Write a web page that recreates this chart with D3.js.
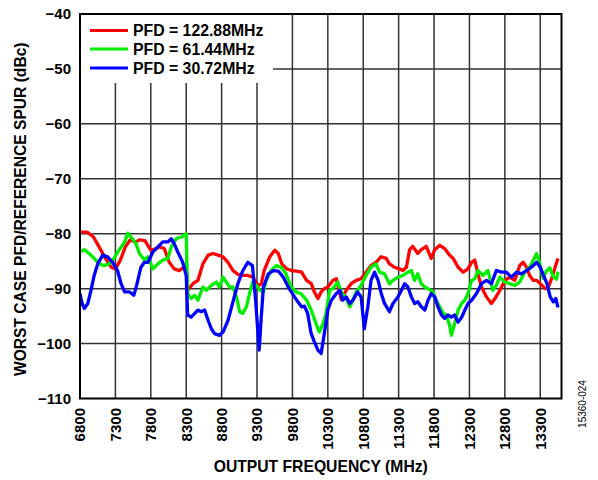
<!DOCTYPE html>
<html><head><meta charset="utf-8">
<script src="https://cdn.jsdelivr.net/npm/d3@7"></script>
<style>
html,body{margin:0;padding:0;background:#fff;}
text{font-family:"Liberation Sans",Arial,Helvetica,sans-serif;}
</style></head>
<body><svg id="c" width="598" height="480"></svg>
<script>
const xTicks = [6800,7300,7800,8300,8800,9300,9800,10300,10800,11300,11800,12300,12800,13300];
const yTicks = [-40,-50,-60,-70,-80,-90,-100,-110];
const seriesNames = ["PFD = 122.88MHz","PFD = 61.44MHz","PFD = 30.72MHz"];
const seriesColors = ["#ff0000","#00ee00","#0000ff"];

const redF = [6800,6900,6990,7070,7160,7240,7300,7370,7440,7510,7580,7650,7720,7770,7800,7880,7920,7990,8060,8130,8200,8270,8300,8320,8395,8465,8535,8610,8680,8750,8820,8890,8960,9030,9100,9170,9240,9310,9360,9400,9480,9550,9600,9650,9720,9790,9860,9930,10000,10065,10110,10160,10205,10250,10300,10370,10420,10490,10560,10630,10700,10770,10840,10910,10980,11050,11125,11170,11240,11310,11360,11410,11455,11500,11570,11620,11690,11760,11810,11880,11950,12020,12070,12140,12210,12280,12330,12375,12420,12470,12540,12610,12660,12730,12800,12870,12940,13010,13060,13105,13150,13200,13250,13300,13370,13415,13460,13510,13550];
const redV = [-79.7,-79.7,-80.6,-82.4,-84.5,-86.1,-86.4,-84.8,-82.4,-81.1,-81.5,-81.1,-81.3,-82.4,-83,-82.7,-82.4,-82.7,-85.2,-86.4,-86.7,-86.1,-86.3,-90.3,-89.1,-88.5,-85.5,-83.9,-83.6,-83.9,-84.2,-85.2,-86.7,-87.4,-87.6,-87.6,-87.9,-89.4,-89.2,-86.7,-84.2,-83,-83.6,-85.5,-86.4,-86.7,-86.8,-87,-88.5,-89.1,-90.6,-91.8,-90.6,-90,-89.7,-88.5,-88.2,-92,-90.3,-89.1,-88.5,-88.2,-87,-85.8,-85.2,-84.2,-84.5,-85.5,-86.1,-86.4,-86.7,-86.1,-82.9,-82.3,-83.6,-82.9,-82.3,-84.5,-82.9,-82.1,-82.7,-83.9,-84.5,-86.1,-87,-86.4,-85.2,-84.8,-87.3,-89.7,-91.5,-92.7,-91.8,-90.3,-88.5,-87.9,-88.5,-85.8,-85.2,-86.1,-87.6,-88.5,-88.5,-89.1,-90,-89.7,-88.2,-86.1,-84.5];

const greenF = [6800,6860,6930,7000,7070,7140,7210,7280,7350,7430,7475,7520,7590,7640,7710,7760,7830,7900,7970,8040,8090,8160,8230,8300,8320,8370,8420,8465,8535,8585,8655,8725,8770,8820,8865,8915,8960,9010,9055,9100,9150,9200,9240,9290,9340,9390,9430,9500,9570,9640,9710,9780,9850,9920,10000,10065,10135,10180,10230,10275,10325,10370,10440,10490,10560,10610,10655,10700,10770,10840,10910,10980,11030,11100,11170,11220,11290,11360,11430,11480,11525,11570,11620,11670,11715,11785,11830,11880,11930,11975,12020,12045,12090,12140,12190,12235,12280,12330,12375,12420,12490,12560,12630,12680,12730,12800,12870,12940,13010,13080,13150,13220,13247,13290,13341,13388,13435,13482,13529,13550];
const greenV = [-83.3,-82.9,-83.6,-84.5,-85.5,-85.8,-85.5,-84.5,-83,-81.5,-79.9,-80.6,-81.8,-83.6,-84.8,-84.2,-86.4,-85.5,-84.8,-84.5,-82.4,-80.9,-80.6,-80,-90.9,-91.8,-91.2,-92.1,-89.7,-90.3,-89.4,-88.8,-89.7,-87.9,-88.8,-89.7,-89.7,-91.5,-94.2,-94.5,-93.3,-90.6,-88.8,-89.4,-90.3,-90.6,-88.5,-86.7,-85.8,-86.1,-87.3,-89.7,-90.6,-90.9,-92.1,-93.9,-96.4,-97.9,-96.4,-94.5,-90.3,-90,-88.8,-90.6,-91.8,-93.3,-92.1,-90.6,-89.4,-87.6,-86.1,-85.5,-87,-87.3,-89.1,-88.5,-87.9,-87.6,-87,-86.7,-88.5,-87.3,-89.1,-89.7,-90,-90.6,-92.1,-93.3,-94.5,-94.8,-96.7,-98.5,-96.4,-93.9,-92.7,-92.1,-90.9,-88.5,-88.2,-86.7,-87.6,-86.7,-90.3,-89.4,-87.9,-88.8,-89.1,-89.4,-88.8,-87,-86.1,-84.4,-83.6,-85.2,-88.1,-86.8,-86.2,-87.8,-88.3,-86.9];

const blueF = [6800,6830,6860,6910,6955,7000,7050,7120,7190,7260,7330,7380,7430,7500,7560,7600,7660,7710,7760,7830,7900,7970,8040,8090,8130,8180,8250,8300,8320,8370,8420,8465,8510,8560,8610,8655,8700,8770,8820,8890,8960,9030,9100,9170,9235,9280,9330,9360,9390,9460,9530,9600,9670,9740,9800,9860,9930,9970,10015,10065,10110,10160,10205,10250,10300,10350,10420,10470,10510,10560,10610,10655,10720,10770,10815,10865,10910,10960,11010,11055,11100,11170,11220,11290,11340,11385,11430,11480,11525,11570,11620,11670,11715,11760,11810,11855,11905,11950,12000,12045,12090,12140,12190,12235,12280,12330,12400,12470,12540,12610,12680,12750,12820,12895,12965,13035,13105,13175,13250,13300,13345,13395,13440,13485,13520,13550];
const blueV = [-90.9,-92.7,-93.6,-92.7,-90.3,-87.6,-85.5,-83.9,-84.2,-85.2,-86.7,-89.1,-90.6,-90.6,-91.2,-89.4,-86.1,-85.2,-85.2,-83.3,-82.4,-81.5,-81.5,-80.9,-81.8,-83.3,-85.2,-87.6,-94.8,-95.2,-94.5,-93.9,-94.2,-93.9,-95.8,-97.3,-98.2,-98.5,-97.9,-95.8,-92.4,-89.1,-86.7,-85.2,-85.8,-92.1,-101.2,-95.2,-89.7,-87.3,-86.7,-86.8,-87.9,-89.7,-90.9,-92.1,-93.3,-93.2,-94.5,-98.2,-99.7,-101.2,-101.8,-98.2,-93.9,-92.1,-90.9,-90.3,-92.1,-91.5,-92.7,-92.1,-90.6,-91.5,-97.3,-93.3,-88.5,-87,-88.5,-90.9,-92.7,-94.2,-92.7,-91.5,-90.3,-89.1,-89.7,-91.5,-92.7,-92.4,-93.3,-93.9,-92.1,-90.9,-91.5,-93.3,-94.8,-95.4,-94.8,-95.2,-94.8,-96.1,-95.2,-93.9,-92.7,-92.1,-90.9,-89.1,-88.5,-89.1,-86.7,-87,-87,-87.9,-87,-87.3,-86.7,-86.1,-85.2,-86.1,-87.6,-89.1,-91.5,-92.4,-91.8,-93.4];

const svg = d3.select("#c");
const L = 80, T = 14, R = 561.5, B = 398.5;
const x = d3.scaleLinear().domain([6800,13600]).range([L,R]);
const y = d3.scaleLinear().domain([-110,-40]).range([B,T]);

// gridlines
const g = svg.append("g");
g.selectAll(".vg").data(xTicks.slice(1)).join("line")
  .attr("x1",d=>x(d)).attr("x2",d=>x(d)).attr("y1",T).attr("y2",B)
  .attr("stroke","#333").attr("stroke-width",1.5);
g.selectAll(".hg").data(yTicks.slice(1,-1)).join("line")
  .attr("x1",L).attr("x2",R).attr("y1",d=>y(d)).attr("y2",d=>y(d))
  .attr("stroke","#333").attr("stroke-width",1.5);

// legend background
svg.append("rect").attr("x",L+1).attr("y",T+1).attr("width",192).attr("height",68).attr("fill","#fff");

// lines
const series = [[redF,redV],[greenF,greenV],[blueF,blueV]];
const line = d3.line().x(d=>x(d[0])).y(d=>y(d[1]));
svg.append("clipPath").attr("id","pc").append("rect").attr("x",L).attr("y",T).attr("width",R-L).attr("height",B-T);
series.forEach((s,i)=>{
  const pts = s[0].map((f,j)=>[f,s[1][j]]);
  svg.append("path").datum(pts).attr("d",line).attr("fill","none")
    .attr("stroke",seriesColors[i]).attr("stroke-width",3.3).attr("stroke-linejoin","round")
    .attr("clip-path","url(#pc)");
});

// border
svg.append("rect").attr("x",L).attr("y",T).attr("width",R-L).attr("height",B-T)
  .attr("fill","none").attr("stroke","#000").attr("stroke-width",2);

// legend
const legY = [30.5,49,68];
seriesNames.forEach((n,i)=>{
  svg.append("line").attr("x1",90).attr("x2",128).attr("y1",legY[i]).attr("y2",legY[i])
    .attr("stroke",seriesColors[i]).attr("stroke-width",3.2);
  svg.append("text").attr("x",133).attr("y",legY[i]+5.6).text(n)
    .attr("font-size","15.8px").attr("font-weight","bold").attr("fill","#000");
});

// y tick labels
svg.selectAll(".yl").data(yTicks).join("text")
  .attr("x",71).attr("y",d=>y(d)+5.2).attr("text-anchor","end")
  .attr("font-size","15px").attr("font-weight","bold")
  .text(d=>"\u2212"+Math.abs(d));

// x tick labels
svg.selectAll(".xl").data(xTicks).join("text")
  .attr("transform",d=>`translate(${x(d)+5.4},408) rotate(-90)`)
  .attr("text-anchor","end")
  .attr("font-size","15px").attr("font-weight","bold")
  .text(d=>d);

// axis titles
svg.append("text").attr("x",(L+R)/2).attr("y",472).attr("text-anchor","middle")
  .attr("font-size","15.7px").attr("font-weight","bold").text("OUTPUT FREQUENCY (MHz)");
svg.append("text").attr("transform",`translate(25.5,${(T+B)/2+3}) rotate(-90)`).attr("text-anchor","middle")
  .attr("font-size","15.6px").attr("font-weight","bold").text("WORST CASE PFD/REFERENCE SPUR (dBc)");
svg.append("text").attr("transform",`translate(586,404) rotate(-90)`).attr("text-anchor","middle")
  .attr("font-size","10px").text("15360-024");
</script></body></html>
